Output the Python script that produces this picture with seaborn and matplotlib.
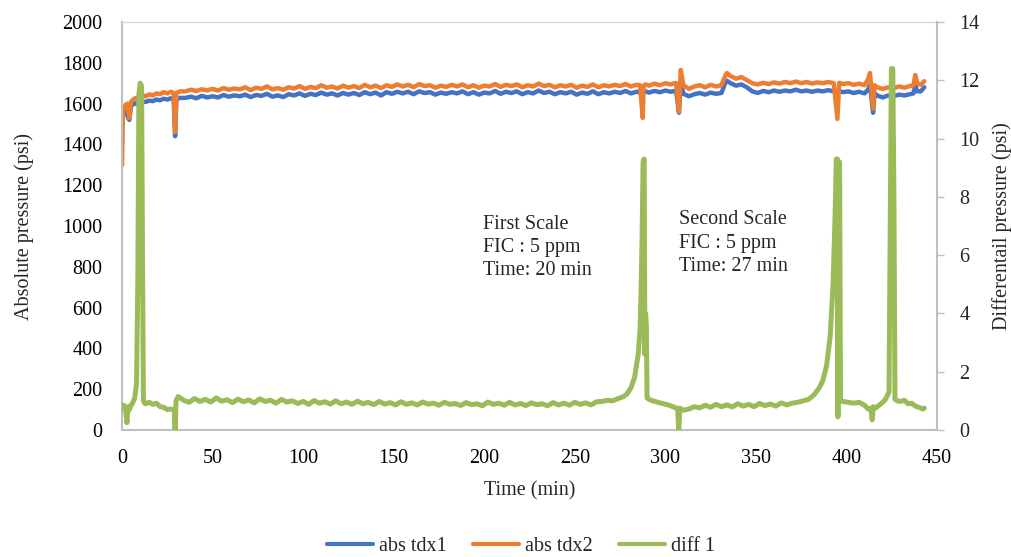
import numpy as np
import pandas as pd
import matplotlib
matplotlib.use("Agg")
import matplotlib.pyplot as plt
import seaborn as sns

sns.set_theme(style="white")
plt.rcParams["font.family"] = ["Liberation Serif", "DejaVu Serif"]

# time axis for the two absolute transducers (min)
t_abs = [0, 0.5, 1, 2, 3, 4, 5, 7, 9, 11, 13, 15, 17, 19, 21, 23, 25, 27, 28.5, 29.3, 30, 32,
         35, 38, 41, 44, 47, 50, 53, 56, 59, 62,
         65, 68, 71, 74, 77, 80, 83, 86, 89, 92,
         95, 98, 101, 104, 107, 110, 113, 116, 119, 122,
         125, 128, 131, 134, 137, 140, 143, 146, 149, 152,
         155, 158, 161, 164, 167, 170, 173, 176, 179, 182,
         185, 188, 191, 194, 197, 200, 203, 206, 209, 212,
         215, 218, 221, 224, 227, 230, 233, 236, 239, 242,
         245, 248, 251, 254, 257, 260, 263, 266, 269, 272,
         275, 278, 281, 284,
         286, 287.5, 288, 289, 291, 294, 297, 300, 303, 305,
         306, 307.5, 308.5, 310, 313, 316, 319, 322, 325, 328,
         331, 333, 334, 336, 339, 342, 345, 348, 351, 354,
         357, 360, 363, 366, 369, 372, 375, 378, 381, 384,
         387, 390, 393, 395, 396, 398, 401, 404, 407, 410,
         412, 413, 414.7, 415.5, 417, 420, 423, 426, 429, 432,
         435, 437, 438, 439, 441, 443]

abs_tdx2 = [1300, 1560, 1575, 1595, 1600, 1530, 1610, 1625, 1630, 1640, 1636, 1645, 1640, 1650, 1646,
            1656, 1650, 1658, 1652, 1460, 1652, 1660,
            1660, 1668, 1662, 1670, 1665, 1672, 1664, 1676, 1668, 1674,
            1670, 1680, 1666, 1678, 1672, 1684, 1670, 1676, 1668, 1680,
            1674, 1686, 1672, 1682, 1676, 1690, 1678, 1684, 1674, 1688,
            1678, 1686, 1676, 1692, 1680, 1688, 1676, 1690, 1682, 1694,
            1684, 1692, 1680, 1696, 1686, 1690, 1678, 1688, 1682, 1692,
            1684, 1694, 1680, 1690, 1678, 1688, 1684, 1696, 1682, 1692,
            1686, 1694, 1680, 1690, 1684, 1698, 1686, 1692, 1680, 1690,
            1684, 1692, 1678, 1688, 1682, 1694, 1680, 1690, 1684, 1692,
            1686, 1696, 1684, 1692,
            1690, 1530, 1688, 1694, 1688, 1698, 1690, 1700, 1694, 1700,
            1700, 1560, 1765, 1690, 1672, 1684, 1690, 1680, 1692, 1684,
            1690, 1735, 1750, 1735, 1722, 1730, 1715, 1700, 1694, 1702,
            1696, 1704, 1698, 1706, 1700, 1708, 1700, 1706, 1698, 1704,
            1700, 1706, 1700, 1525, 1702, 1696, 1700, 1692, 1698, 1690,
            1720, 1750, 1575, 1690, 1680, 1672, 1680, 1676, 1684, 1678,
            1686, 1690, 1740, 1700, 1692, 1710]

abs_tdx1 = [1530, 1545, 1555, 1570, 1540, 1520, 1590, 1600, 1605, 1610, 1608, 1615, 1612, 1620, 1616,
            1624, 1620, 1626, 1622, 1440, 1620, 1628,
            1628, 1634, 1626, 1638, 1630, 1636, 1630, 1642, 1634, 1640,
            1636, 1644, 1632, 1642, 1638, 1648, 1634, 1640, 1632, 1646,
            1640, 1650, 1638, 1648, 1642, 1654, 1644, 1650, 1640, 1652,
            1644, 1652, 1642, 1656, 1646, 1654, 1640, 1656, 1648, 1658,
            1650, 1658, 1646, 1660, 1652, 1656, 1644, 1654, 1648, 1656,
            1650, 1660, 1646, 1656, 1644, 1654, 1650, 1662, 1648, 1658,
            1652, 1660, 1646, 1656, 1650, 1664, 1652, 1658, 1646, 1656,
            1650, 1658, 1644, 1654, 1648, 1660, 1646, 1656, 1650, 1658,
            1652, 1662, 1650, 1658,
            1656, 1650, 1654, 1660, 1654, 1662, 1656, 1664, 1658, 1662,
            1660, 1555, 1700, 1648, 1636, 1646, 1652, 1644, 1654, 1648,
            1652, 1700, 1712, 1700, 1688, 1694, 1680, 1660, 1652, 1662,
            1656, 1664, 1658, 1664, 1660, 1668, 1660, 1664, 1658, 1664,
            1660, 1666, 1660, 1650, 1662, 1656, 1660, 1652, 1658, 1650,
            1670, 1690, 1555, 1650, 1640, 1630, 1640, 1636, 1644, 1640,
            1646, 1650, 1690, 1660, 1660, 1680]

# time axis for the differential transducer (min)
t_diff = [0, 1, 2, 2.7, 3.3, 4, 5, 6, 7, 8, 8.7, 9.3, 10, 10.8, 11.3, 11.8, 12.5,
          13, 15, 17, 19, 21, 23, 25, 27, 28.8, 29.3, 29.8, 31,
          34, 37, 40, 43, 46, 49, 52, 55, 58, 61,
          64, 67, 70, 73, 76, 79, 82, 85, 88, 91,
          94, 97, 100, 103, 106, 109, 112, 115, 118, 121,
          124, 127, 130, 133, 136, 139, 142, 145, 148, 151,
          154, 157, 160, 163, 166, 169, 172, 175, 178, 181,
          184, 187, 190, 193, 196, 199, 202, 205, 208, 211,
          214, 217, 220, 223, 226, 229, 232, 235, 238, 241,
          244, 247, 250, 253, 256, 259, 262,
          265, 268, 271, 274, 277, 279, 281, 283, 285, 286,
          286.6, 287.2, 287.7, 288.3, 288.7, 289.1, 289.5, 289.9, 291, 293,
          296, 299, 302, 305, 306.8, 307.4, 308, 310,
          313, 316, 319, 322, 325, 328, 331, 334, 337, 340,
          343, 346, 349, 352, 355, 358, 361, 364, 367, 370,
          373, 376, 379, 382, 385, 387, 389, 391, 392.6, 393.7,
          394.4, 395.0, 395.3, 395.7, 396.2, 396.7, 398, 401, 404, 407,
          410, 412, 413.5, 414.2, 414.8, 416, 418, 420, 421.5, 423.5,
          424.3, 424.8, 425.6, 426.2, 426.8, 428, 430, 432, 434, 436,
          438, 440, 442, 443]

diff_1 = [0.75, 0.85, 0.7, 0.25, 0.8, 0.7, 0.85, 0.95, 1.1, 1.6, 5.0, 11.5, 11.9, 11.8, 6.0, 1.0, 0.92,
          0.9, 0.95, 0.88, 0.92, 0.8, 0.78, 0.7, 0.72, 0.68, 0.0, 1.0, 1.15,
          1.02, 0.95, 1.08, 0.98, 1.05, 0.96, 1.10, 0.99, 1.04, 0.94,
          1.06, 0.97, 1.03, 0.93, 1.07, 0.98, 1.02, 0.92, 1.05, 0.96,
          1.00, 0.91, 0.98, 0.88, 1.01, 0.92, 0.97, 0.89, 1.00, 0.90,
          0.96, 0.88, 0.99, 0.90, 0.95, 0.87, 0.98, 0.89, 0.94, 0.86,
          0.97, 0.88, 0.93, 0.86, 0.96, 0.89, 0.92, 0.85, 0.95, 0.88,
          0.91, 0.84, 0.94, 0.87, 0.90, 0.83, 0.96, 0.88, 0.92, 0.85,
          0.95, 0.86, 0.91, 0.84, 0.93, 0.87, 0.90, 0.83, 0.94, 0.86,
          0.92, 0.85, 0.95, 0.88, 0.93, 0.86, 0.97,
          0.98, 1.02, 1.0, 1.08, 1.15, 1.25, 1.45, 1.8, 2.6, 3.4,
          4.8, 6.8, 9.2, 9.3, 2.6, 4.0, 3.6, 1.1, 1.05, 1.0,
          0.95, 0.9, 0.85, 0.78, 0.72, 0.0, 0.75, 0.68,
          0.72, 0.80, 0.76, 0.85, 0.78, 0.88, 0.80, 0.86, 0.79, 0.90,
          0.82, 0.88, 0.80, 0.91, 0.84, 0.89, 0.82, 0.93, 0.86, 0.92,
          0.95, 1.0, 1.05, 1.2, 1.45, 1.7, 2.2, 3.2, 5.0, 7.3,
          9.3, 9.3, 0.45, 9.2, 9.2, 1.0, 0.98, 0.95, 0.92, 0.95,
          0.85, 0.72, 0.75, 0.35, 0.8, 0.75, 0.85, 0.95, 1.05, 1.3,
          8.0, 12.4, 12.4, 8.0, 1.05, 1.0, 0.98, 1.02, 0.9, 0.92,
          0.82, 0.78, 0.72, 0.75]

x_ticks = [0, 50, 100, 150, 200, 250, 300, 350, 400, 450]
left_ticks = [0, 200, 400, 600, 800, 1000, 1200, 1400, 1600, 1800, 2000]
right_ticks = [0, 2, 4, 6, 8, 10, 12, 14]

BLUE, ORANGE, GREEN = "#4472C4", "#ED7D31", "#9BBB59"
GRAY = "#BFBFBF"
FS = 14.5

fig = plt.figure(figsize=(10.12, 5.57), dpi=100)
ax = fig.add_axes([0.1206, 0.228, 0.8053, 0.7325])
ax2 = ax.twinx()

sns.lineplot(x=t_abs, y=abs_tdx1, ax=ax, color=BLUE, lw=3.2, estimator=None, sort=False, legend=False)
sns.lineplot(x=t_abs, y=abs_tdx2, ax=ax, color=ORANGE, lw=3.2, estimator=None, sort=False, legend=False)
sns.lineplot(x=t_diff, y=diff_1, ax=ax2, color=GREEN, lw=3.6, estimator=None, sort=False, legend=False)

ax.set_xlim(0, 450)
ax.set_ylim(0, 2000)
ax2.set_ylim(0, 14)
ax.set_xticks(x_ticks)
ax.set_yticks(left_ticks)
ax2.set_yticks(right_ticks)
ax.grid(False)
ax2.grid(False)

ax.tick_params(axis="both", length=0, pad=14, labelsize=FS, colors="black")
ax2.tick_params(axis="y", direction="out", length=5, width=1, color=GRAY, pad=11, labelsize=FS)

for a in (ax, ax2):
    for s in a.spines.values():
        s.set_visible(False)
ax.spines["left"].set_visible(True)
ax.spines["left"].set_color(GRAY)
ax.spines["left"].set_linewidth(1.5)
ax.spines["bottom"].set_visible(True)
ax.spines["bottom"].set_color(GRAY)
ax.spines["bottom"].set_linewidth(1.5)
ax.spines["top"].set_visible(True)
ax.spines["top"].set_color("#D9D9D9")
ax.spines["top"].set_linewidth(1.0)
ax2.spines["right"].set_visible(True)
ax2.spines["right"].set_color(GRAY)
ax2.spines["right"].set_linewidth(1.5)

ax.set_xlabel("Time (min)", fontsize=FS)
ax.set_ylabel("Absolute pressure (psi)", fontsize=FS)
ax2.set_ylabel("Differentail pressure (psi)", fontsize=FS)
ax.xaxis.set_label_coords(0.5, -0.125)
ax.yaxis.set_label_coords(-0.108, 0.5)
ax2.yaxis.set_label_coords(1.067, 0.5)

ax.text(199.5, 894, "First Scale\nFIC : 5 ppm\nTime: 20 min", fontsize=FS,
        ha="left", va="center", linespacing=1.3)
ax.text(307.5, 916, "Second Scale\nFIC : 5 ppm\nTime: 27 min", fontsize=FS,
        ha="left", va="center", linespacing=1.3)

handles = [plt.Line2D([], [], color=c, lw=3) for c in (BLUE, ORANGE, GREEN)]
fig.legend(handles, ["abs tdx1", "abs tdx2", "diff 1"], loc="center",
           bbox_to_anchor=(521 / 1012, 1 - 546 / 557), ncol=3, frameon=False,
           fontsize=FS, handlelength=2.3, handletextpad=0.3, columnspacing=1.3)

fig.savefig("out.png", dpi=100)
